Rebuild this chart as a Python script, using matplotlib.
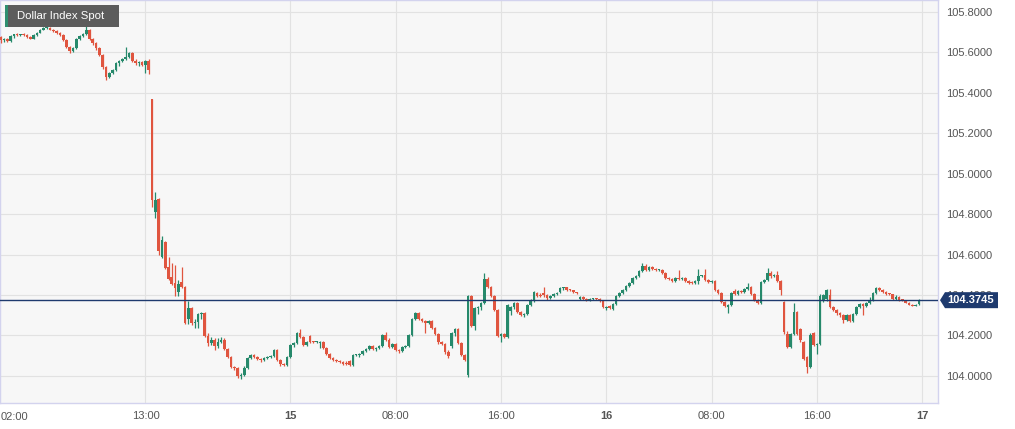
import numpy as np
import matplotlib.pyplot as plt
from matplotlib.patches import Rectangle, Polygon

plt.rcParams['font.family'] = ['Liberation Sans', 'DejaVu Sans']

# 15 minute bars, 14th 02:00 .. 16th 23:45
opens = [
    105.675, 105.66, 105.665, 105.655, 105.68, 105.69, 105.685, 105.688, 105.685, 105.675,
    105.668, 105.685, 105.698, 105.712, 105.72, 105.722, 105.712, 105.705, 105.695, 105.685,
    105.66, 105.625, 105.605, 105.62, 105.665, 105.68, 105.69, 105.71, 105.665, 105.645,
    105.62, 105.585, 105.53, 105.48, 105.50, 105.515, 105.545, 105.555, 105.565, 105.575,
    105.595, 105.555, 105.545, 105.55, 105.54, 105.555, 105.37, 104.81, 104.875, 104.59,
    104.66, 104.54, 104.49, 104.46, 104.415, 104.465, 104.44, 104.28, 104.335, 104.26,
    104.265, 104.305, 104.31, 104.195, 104.165, 104.18, 104.15, 104.17, 104.18, 104.135,
    104.095, 104.045, 104.04, 104.0, 104.005, 104.04, 104.09, 104.105, 104.095, 104.085,
    104.08, 104.09, 104.095, 104.10, 104.13, 104.08, 104.06, 104.055, 104.095, 104.155,
    104.165, 104.21, 104.19, 104.155, 104.195, 104.17, 104.168, 104.165, 104.17, 104.14,
    104.11, 104.09, 104.08, 104.075, 104.07, 104.065, 104.075, 104.055, 104.105, 104.105,
    104.11, 104.125, 104.135, 104.15, 104.135, 104.14, 104.15, 104.20, 104.18, 104.145,
    104.16, 104.13, 104.125, 104.145, 104.15, 104.20, 104.28, 104.31, 104.28, 104.27,
    104.26, 104.27, 104.235, 104.205, 104.17, 104.16, 104.12, 104.15, 104.21, 104.23,
    104.165, 104.105, 104.005, 104.395, 104.245, 104.335, 104.34, 104.36, 104.48, 104.44,
    104.395, 104.325, 104.195, 104.205, 104.19, 104.32, 104.34, 104.36, 104.315, 104.30,
    104.305, 104.35, 104.37, 104.41, 104.40, 104.41, 104.40, 104.385, 104.395, 104.405,
    104.415, 104.435, 104.438, 104.425, 104.423, 104.413, 104.378, 104.392, 104.38, 104.375,
    104.38, 104.383, 104.38, 104.37, 104.335, 104.345, 104.33, 104.355, 104.395, 104.41,
    104.425, 104.445, 104.46, 104.485, 104.495, 104.52, 104.545, 104.525, 104.54, 104.53,
    104.525, 104.526, 104.51, 104.485, 104.48, 104.47, 104.485, 104.48, 104.485, 104.47,
    104.465, 104.458, 104.47, 104.495, 104.497, 104.475, 104.465, 104.47, 104.425, 104.41,
    104.365, 104.34, 104.35, 104.42, 104.405, 104.42, 104.415, 104.43, 104.44, 104.405,
    104.375, 104.36, 104.465, 104.475, 104.51, 104.495, 104.50, 104.47, 104.365, 104.205,
    104.145, 104.205, 104.315, 104.23, 104.17, 104.095, 104.045, 104.21, 104.155, 104.16,
    104.375, 104.38, 104.40, 104.34, 104.325, 104.31, 104.30, 104.275, 104.30, 104.27,
    104.305, 104.34, 104.355, 104.345, 104.36, 104.375, 104.41, 104.435, 104.425, 104.415,
    104.405, 104.403, 104.38, 104.39, 104.375, 104.373, 104.363, 104.353, 104.347, 104.355,
]
highs = [
    105.68, 105.67, 105.67, 105.685, 105.69, 105.695, 105.69, 105.695, 105.69, 105.68,
    105.69, 105.70, 105.715, 105.725, 105.73, 105.725, 105.715, 105.71, 105.70, 105.69,
    105.665, 105.63, 105.625, 105.67, 105.685, 105.695, 105.735, 105.715, 105.67, 105.65,
    105.625, 105.59, 105.535, 105.505, 105.52, 105.55, 105.56, 105.57, 105.625, 105.60,
    105.60, 105.565, 105.555, 105.555, 105.56, 105.565, 105.37, 104.91, 104.88, 104.69,
    104.665, 104.59, 104.56, 104.55, 104.475, 104.54, 104.445, 104.37, 104.34, 104.28,
    104.31, 104.315, 104.315, 104.21, 104.19, 104.185, 104.185, 104.19, 104.185, 104.14,
    104.10, 104.05, 104.045, 104.015, 104.05, 104.095, 104.11, 104.11, 104.10, 104.09,
    104.095, 104.10, 104.105, 104.135, 104.135, 104.085, 104.065, 104.10, 104.16, 104.17,
    104.215, 104.23, 104.195, 104.175, 104.20, 104.175, 104.175, 104.175, 104.175, 104.145,
    104.115, 104.095, 104.085, 104.08, 104.075, 104.075, 104.08, 104.11, 104.11, 104.115,
    104.13, 104.14, 104.155, 104.155, 104.145, 104.155, 104.205, 104.215, 104.185, 104.165,
    104.165, 104.135, 104.15, 104.155, 104.205, 104.285, 104.315, 104.315, 104.285, 104.275,
    104.275, 104.275, 104.24, 104.21, 104.175, 104.165, 104.13, 104.215, 104.235, 104.235,
    104.17, 104.11, 104.40, 104.40, 104.34, 104.345, 104.365, 104.51, 104.49, 104.445,
    104.40, 104.33, 104.21, 104.21, 104.355, 104.345, 104.365, 104.365, 104.32, 104.31,
    104.355, 104.38, 104.42, 104.415, 104.41, 104.44, 104.405, 104.40, 104.41, 104.415,
    104.44, 104.44, 104.44, 104.43, 104.425, 104.415, 104.395, 104.395, 104.385, 104.385,
    104.385, 104.385, 104.385, 104.375, 104.345, 104.35, 104.36, 104.40, 104.415, 104.43,
    104.45, 104.465, 104.49, 104.50, 104.525, 104.56, 104.555, 104.545, 104.545, 104.535,
    104.53, 104.53, 104.515, 104.49, 104.485, 104.49, 104.525, 104.49, 104.49, 104.475,
    104.47, 104.475, 104.53, 104.50, 104.53, 104.48, 104.475, 104.475, 104.43, 104.415,
    104.37, 104.355, 104.415, 104.43, 104.425, 104.425, 104.435, 104.46, 104.445, 104.41,
    104.38, 104.47, 104.48, 104.535, 104.52, 104.505, 104.52, 104.475, 104.37, 104.22,
    104.21, 104.36, 104.32, 104.235, 104.175, 104.10, 104.21, 104.215, 104.165, 104.405,
    104.405, 104.43, 104.43, 104.345, 104.33, 104.315, 104.305, 104.305, 104.305, 104.31,
    104.345, 104.36, 104.36, 104.365, 104.39, 104.415, 104.44, 104.44, 104.43, 104.42,
    104.41, 104.405, 104.40, 104.395, 104.38, 104.375, 104.365, 104.355, 104.355, 104.38,
]
lows = [
    105.645, 105.65, 105.65, 105.65, 105.67, 105.68, 105.68, 105.68, 105.67, 105.665,
    105.665, 105.68, 105.695, 105.71, 105.715, 105.71, 105.70, 105.69, 105.68, 105.655,
    105.62, 105.595, 105.60, 105.615, 105.66, 105.675, 105.685, 105.66, 105.635, 105.61,
    105.58, 105.52, 105.465, 105.475, 105.495, 105.51, 105.535, 105.55, 105.56, 105.57,
    105.55, 105.54, 105.535, 105.535, 105.50, 105.495, 104.835, 104.78, 104.60, 104.585,
    104.53, 104.475, 104.45, 104.395, 104.395, 104.435, 104.255, 104.255, 104.25, 104.235,
    104.235, 104.28, 104.19, 104.15, 104.155, 104.13, 104.14, 104.165, 104.13, 104.09,
    104.04, 104.03, 103.99, 103.985, 104.0, 104.035, 104.085, 104.09, 104.08, 104.07,
    104.075, 104.085, 104.09, 104.095, 104.075, 104.05, 104.05, 104.05, 104.09, 104.145,
    104.16, 104.185, 104.15, 104.15, 104.165, 104.165, 104.165, 104.14, 104.135, 104.105,
    104.085, 104.075, 104.07, 104.065, 104.055, 104.055, 104.05, 104.05, 104.10, 104.095,
    104.105, 104.12, 104.13, 104.13, 104.125, 104.135, 104.145, 104.175, 104.14, 104.14,
    104.125, 104.115, 104.12, 104.14, 104.145, 104.195, 104.275, 104.275, 104.265, 104.21,
    104.255, 104.23, 104.20, 104.16, 104.155, 104.11, 104.09, 104.14, 104.195, 104.16,
    104.10, 104.075, 103.995, 104.24, 104.225, 104.305, 104.325, 104.355, 104.435, 104.39,
    104.32, 104.19, 104.17, 104.185, 104.185, 104.30, 104.33, 104.31, 104.295, 104.29,
    104.30, 104.345, 104.365, 104.39, 104.39, 104.39, 104.375, 104.38, 104.39, 104.40,
    104.41, 104.425, 104.42, 104.42, 104.41, 104.405, 104.375, 104.375, 104.37, 104.37,
    104.375, 104.375, 104.365, 104.335, 104.325, 104.33, 104.325, 104.35, 104.39, 104.405,
    104.42, 104.44, 104.455, 104.48, 104.49, 104.515, 104.52, 104.52, 104.525, 104.52,
    104.52, 104.505, 104.48, 104.475, 104.465, 104.465, 104.475, 104.475, 104.465, 104.455,
    104.455, 104.455, 104.455, 104.49, 104.47, 104.46, 104.46, 104.42, 104.405, 104.36,
    104.34, 104.31, 104.345, 104.40, 104.40, 104.41, 104.41, 104.425, 104.40, 104.37,
    104.355, 104.355, 104.46, 104.47, 104.485, 104.49, 104.465, 104.40, 104.205, 104.14,
    104.14, 104.20, 104.20, 104.17, 104.08, 104.015, 104.04, 104.15, 104.11, 104.155,
    104.365, 104.37, 104.335, 104.32, 104.30, 104.29, 104.26, 104.27, 104.265, 104.265,
    104.30, 104.335, 104.30, 104.34, 104.355, 104.37, 104.405, 104.42, 104.41, 104.40,
    104.40, 104.375, 104.375, 104.37, 104.37, 104.36, 104.35, 104.345, 104.345, 104.35,
]
closes = [
    105.66, 105.665, 105.655, 105.68, 105.69, 105.685, 105.688, 105.685, 105.675, 105.668,
    105.685, 105.698, 105.712, 105.72, 105.722, 105.712, 105.705, 105.695, 105.685, 105.66,
    105.625, 105.605, 105.62, 105.665, 105.68, 105.69, 105.71, 105.665, 105.645, 105.62,
    105.585, 105.53, 105.48, 105.50, 105.515, 105.545, 105.555, 105.565, 105.575, 105.595,
    105.555, 105.545, 105.55, 105.54, 105.555, 105.515, 104.87, 104.87, 104.62, 104.67,
    104.535, 104.48, 104.455, 104.435, 104.455, 104.44, 104.26, 104.335, 104.26, 104.265,
    104.305, 104.31, 104.195, 104.165, 104.18, 104.15, 104.17, 104.18, 104.135, 104.095,
    104.045, 104.04, 104.0, 104.005, 104.04, 104.09, 104.105, 104.095, 104.085, 104.08,
    104.09, 104.095, 104.10, 104.13, 104.08, 104.06, 104.055, 104.095, 104.155, 104.165,
    104.21, 104.19, 104.155, 104.17, 104.17, 104.168, 104.17, 104.17, 104.14, 104.11,
    104.09, 104.08, 104.075, 104.07, 104.06, 104.06, 104.055, 104.105, 104.105, 104.11,
    104.125, 104.135, 104.15, 104.135, 104.14, 104.15, 104.20, 104.18, 104.145, 104.16,
    104.13, 104.125, 104.145, 104.15, 104.20, 104.28, 104.31, 104.28, 104.27, 104.26,
    104.27, 104.235, 104.205, 104.17, 104.16, 104.12, 104.10, 104.21, 104.23, 104.165,
    104.105, 104.08, 104.395, 104.245, 104.335, 104.34, 104.36, 104.48, 104.44, 104.395,
    104.325, 104.195, 104.205, 104.19, 104.35, 104.34, 104.36, 104.315, 104.30, 104.305,
    104.35, 104.375, 104.415, 104.395, 104.395, 104.40, 104.385, 104.395, 104.405, 104.41,
    104.435, 104.438, 104.425, 104.423, 104.413, 104.41, 104.392, 104.38, 104.375, 104.38,
    104.383, 104.38, 104.37, 104.34, 104.338, 104.335, 104.355, 104.395, 104.41, 104.425,
    104.445, 104.46, 104.485, 104.495, 104.52, 104.545, 104.525, 104.54, 104.53, 104.525,
    104.526, 104.51, 104.485, 104.48, 104.47, 104.485, 104.48, 104.485, 104.47, 104.46,
    104.458, 104.47, 104.495, 104.497, 104.475, 104.465, 104.47, 104.425, 104.41, 104.365,
    104.345, 104.35, 104.41, 104.405, 104.42, 104.415, 104.43, 104.44, 104.405, 104.375,
    104.36, 104.465, 104.475, 104.51, 104.495, 104.50, 104.47, 104.425, 104.215, 104.145,
    104.205, 104.315, 104.205, 104.178, 104.085, 104.045, 104.20, 104.155, 104.16, 104.395,
    104.40, 104.425, 104.34, 104.325, 104.31, 104.30, 104.275, 104.30, 104.27, 104.305,
    104.34, 104.355, 104.345, 104.36, 104.375, 104.41, 104.435, 104.425, 104.415, 104.405,
    104.403, 104.38, 104.39, 104.375, 104.373, 104.363, 104.353, 104.347, 104.35, 104.3745,
]

first_bar_hour = 2          # hours after 14th 00:00
bar_hours = 0.25
last_price = 104.3745
price_ticks = [104.0, 104.2, 104.4, 104.6, 104.8, 105.0, 105.2, 105.4, 105.6, 105.8]
time_ticks = [13, 24, 32, 40, 48, 56, 64, 72]
time_labels = ['13:00', '15', '08:00', '16:00', '16', '08:00', '16:00', '17']
day_labels = ['15', '16', '17']

up_color = '#26896b'
down_color = '#e0553f'
navy = '#1e3a6e'

o = np.array(opens)
h = np.array(highs)
l = np.array(lows)
c = np.array(closes)
t = first_bar_hour + bar_hours * np.arange(len(c))

W, H = 1015, 429
fig = plt.figure(figsize=(W / 100, H / 100), dpi=100)
fig.patch.set_facecolor('white')
ax = fig.add_axes([0, 26 / H, 938 / W, 403 / H])
ax.set_facecolor('#f7f7f7')

cols = np.where(c >= o, up_color, down_color)
ax.vlines(t, l, h, colors=cols, linewidth=0.9, zorder=3)
body = np.maximum(np.abs(c - o), 0.005)
ax.bar(t, body, bottom=np.minimum(o, c), width=0.2, color=cols,
       linewidth=0, zorder=3)

ax.axhline(last_price, color=navy, linewidth=1, zorder=4)

ax.set_xlim(1.95, 73.2)
ax.set_ylim(103.866, 105.859)

ax.set_xticks(time_ticks)
ax.set_xticklabels(time_labels)
for lab in ax.get_xticklabels():
    if lab.get_text() in day_labels:
        lab.set_fontweight('bold')
        lab.set_color('#444444')
ax.yaxis.tick_right()
ax.set_yticks(price_ticks)
ax.set_yticklabels([f'{v:.4f}' for v in price_ticks])
ax.tick_params(axis='both', length=0, labelsize=8, colors='#555555')
ax.tick_params(axis='y', pad=6)
ax.tick_params(axis='x', pad=6)

ax.grid(True, color='#e2e2e2', linewidth=0.8, zorder=0)
ax.set_axisbelow(True)
for sp in ax.spines.values():
    sp.set_color('#d3d3ee')
    sp.set_linewidth(1)

# first time label sits at the left edge
fig.text(0.5 / W, 1 - 417 / H, '02:00', fontsize=8, color='#555555',
         ha='left', va='center')

# title tag
fig.patches.append(Rectangle((5 / W, 1 - 27 / H), 114 / W, 22 / H,
                             transform=fig.transFigure, facecolor='#5c5c5c',
                             edgecolor='none', zorder=5))
fig.patches.append(Rectangle((5 / W, 1 - 27 / H), 3 / W, 22 / H,
                             transform=fig.transFigure, facecolor='#2f8f6f',
                             edgecolor='none', zorder=6))
fig.text(17 / W, 1 - 16 / H, 'Dollar Index Spot', fontsize=8.2, color='white',
         ha='left', va='center', zorder=7)

# last price tag on the right axis, covering the 104.4000 label as in the source
fig.canvas.draw()
yc = ax.transData.transform((0, last_price))[1]
tag = [(940, yc), (945, yc + 8), (998, yc + 8), (998, yc - 8), (945, yc - 8)]
fig.patches.append(Polygon([(x / W, y / H) for x, y in tag], closed=True,
                           transform=fig.transFigure, facecolor=navy,
                           edgecolor='none', zorder=5))
fig.text(971 / W, yc / H, f'{last_price:.4f}', fontsize=8, fontweight='bold',
         color='white', ha='center', va='center', zorder=6)

fig.savefig('out.png', dpi=100, facecolor='white')
